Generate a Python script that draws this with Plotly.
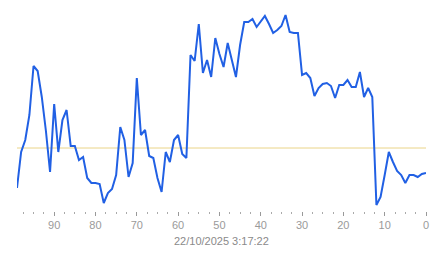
import plotly.graph_objects as go

# x positions (counting down from 99 to 0)
steps = list(range(99, -1, -1))
# series values (arbitrary units)
values = [23, 59, 71, 96, 145, 140, 114, 80, 39, 107,
          59, 91, 101, 65, 65, 51, 54, 33, 28, 28,
          27, 8, 18, 22, 36, 84, 71, 34, 48, 133,
          76, 81, 55, 53, 33, 19, 59, 49, 71, 76,
          57, 53, 156, 150, 187, 138, 151, 134, 173, 157,
          144, 168, 151, 134, 166, 189, 189, 192, 184, 189,
          195, 187, 178, 181, 185, 196, 179, 178, 178, 136,
          138, 133, 115, 123, 127, 128, 125, 113, 126, 126,
          131, 124, 124, 139, 114, 123, 114, 6, 14, 36,
          59, 49, 40, 36, 28, 36, 36, 34, 37, 38]
reference_level = 63
tick_values = [90, 80, 70, 60, 50, 40, 30, 20, 10, 0]
tick_labels = ["90", "80", "70", "60", "50", "40", "30", "20", "10", "0"]
timestamp = "22/10/2025 3:17:22"

fig = go.Figure()
fig.add_trace(go.Scatter(
    x=steps, y=values, mode="lines",
    line=dict(color="#2160e4", width=2),
    hoverinfo="skip", showlegend=False,
))
fig.add_hline(y=reference_level, line=dict(color="#ead488", width=1), layer="below")

fig.add_annotation(
    text=timestamp, x=0.5, xref="paper", y=-0.142, yref="paper",
    yanchor="middle", xanchor="center", showarrow=False,
    font=dict(family="Liberation Sans, Arial", size=11, color="#8a8a8a"),
)

fig.update_layout(
    width=443, height=258,
    margin=dict(l=17, r=17, t=0, b=47),
    paper_bgcolor="white", plot_bgcolor="white",
    font=dict(family="Liberation Sans, Arial", size=11, color="#9a9a9a"),
    xaxis=dict(
        range=[99, 0], showgrid=False, zeroline=False, showline=False,
        tickmode="array", tickvals=tick_values, ticktext=tick_labels,
        ticks="outside", ticklen=4, tickwidth=1, tickcolor="#999999",
        tickfont=dict(size=11, color="#9a9a9a"),
        minor=dict(ticks="outside", ticklen=2, tickwidth=1, dtick=2.5,
                   tick0=0, tickcolor="#aaaaaa", showgrid=False),
    ),
    yaxis=dict(range=[0, 211], visible=False, showgrid=False, zeroline=False),
)

fig.write_html("out.html")
